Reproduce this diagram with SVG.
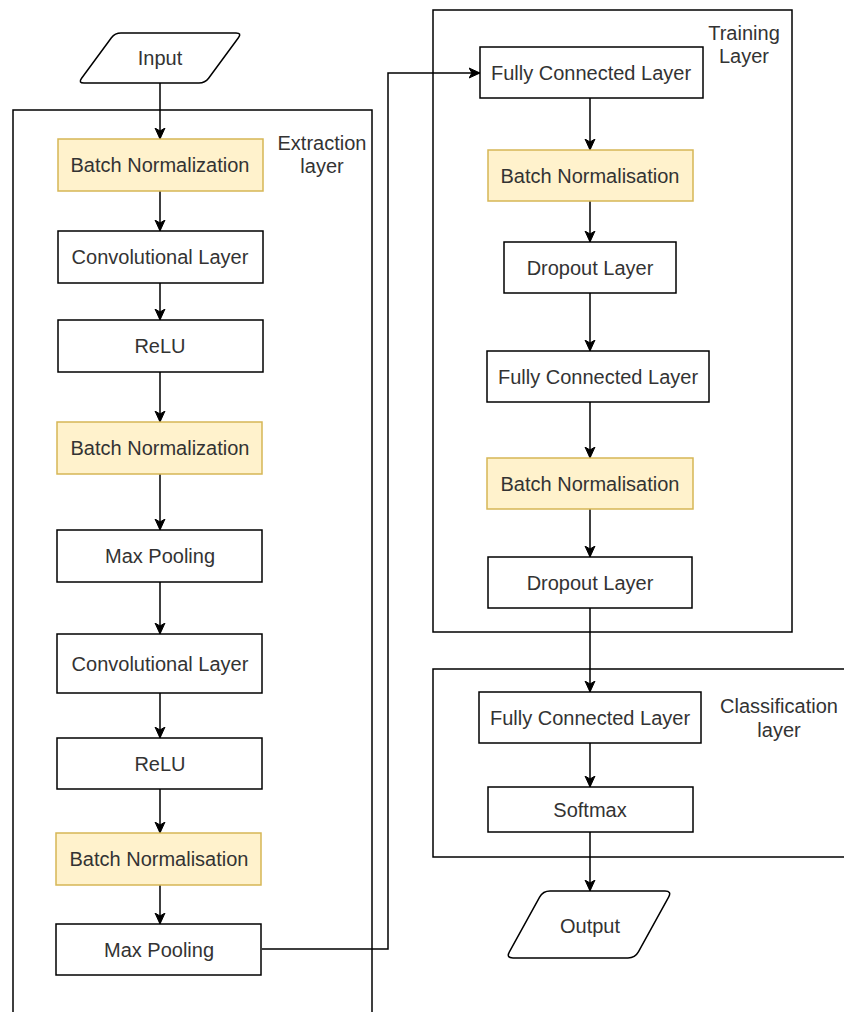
<svg xmlns="http://www.w3.org/2000/svg" width="844" height="1012" viewBox="0 0 844 1012">
<style>
.box{fill:#ffffff;stroke:#000000;stroke-width:1.5}
.bn{fill:#fff2cc;stroke:#d6b656;stroke-width:1.5}
.cont{fill:none;stroke:#000000;stroke-width:1.5}
.t{font-family:"Liberation Sans",Arial,sans-serif;font-size:20px;fill:#333333;text-anchor:middle}
.edge{fill:none;stroke:#000000;stroke-width:1.5}
</style>
<defs>
<marker id="arr" markerUnits="userSpaceOnUse" markerWidth="12" markerHeight="12" viewBox="0 0 12 12" refX="11" refY="6" orient="auto">
<path d="M0,1 L11,6 L0,11 L3,6 Z" fill="#000000" stroke="#000000" stroke-width="1"/>
</marker>
</defs>
<rect x="0" y="0" width="844" height="1012" fill="#ffffff"/>

<g id="containers">
<g id="extraction-layer">
<rect class="cont" x="13" y="110" width="359" height="920"/>
<text class="t" x="322" y="150">Extraction</text>
<text class="t" x="322" y="173">layer</text>
</g>
<g id="training-layer">
<rect class="cont" x="433" y="10" width="359" height="622"/>
<text class="t" x="744" y="40">Training</text>
<text class="t" x="744" y="63">Layer</text>
</g>
<g id="classification-layer">
<rect class="cont" x="433" y="669" width="430" height="188"/>
<text class="t" x="779" y="713">Classification</text>
<text class="t" x="779" y="737">layer</text>
</g>
</g>

<g id="connectors">
<path class="edge" marker-end="url(#arr)" d="M160,83 V139"/>
<path class="edge" marker-end="url(#arr)" d="M160,191 V231"/>
<path class="edge" marker-end="url(#arr)" d="M160,283 V320"/>
<path class="edge" marker-end="url(#arr)" d="M160,372 V422"/>
<path class="edge" marker-end="url(#arr)" d="M160,474 V530"/>
<path class="edge" marker-end="url(#arr)" d="M160,582 V634"/>
<path class="edge" marker-end="url(#arr)" d="M160,693 V738"/>
<path class="edge" marker-end="url(#arr)" d="M160,789 V833"/>
<path class="edge" marker-end="url(#arr)" d="M160,885 V924"/>
<path class="edge" marker-end="url(#arr)" d="M262,949 H388 V73 H480"/>
<path class="edge" marker-end="url(#arr)" d="M590,98 V150"/>
<path class="edge" marker-end="url(#arr)" d="M590,201 V242"/>
<path class="edge" marker-end="url(#arr)" d="M590,293 V351"/>
<path class="edge" marker-end="url(#arr)" d="M590,402 V458"/>
<path class="edge" marker-end="url(#arr)" d="M590,509 V557"/>
<path class="edge" marker-end="url(#arr)" d="M590,608 V692"/>
<path class="edge" marker-end="url(#arr)" d="M590,743 V787"/>
<path class="edge" marker-end="url(#arr)" d="M590,832 V891"/>
</g>

<g id="input">
<path class="box" stroke-width="2" d="M121,33 L236,33 Q242,33 238.4,37.8 L208.6,78.2 Q205,83 199,83 L84,83 Q78,83 81.6,78.2 L111.4,37.8 Q115,33 121,33 Z"/>
<text class="t" x="160" y="65">Input</text>
</g>

<g id="bn1"><rect class="bn" x="58" y="139" width="205" height="52"/><text class="t" x="160" y="172">Batch Normalization</text></g>
<g id="conv1"><rect class="box" x="58" y="231" width="205" height="52"/><text class="t" x="160" y="264">Convolutional Layer</text></g>
<g id="relu1"><rect class="box" x="58" y="320" width="205" height="52"/><text class="t" x="160" y="353">ReLU</text></g>
<g id="bn2"><rect class="bn" x="57" y="422" width="205" height="52"/><text class="t" x="160" y="455">Batch Normalization</text></g>
<g id="maxpool1"><rect class="box" x="57" y="530" width="205" height="52"/><text class="t" x="160" y="563">Max Pooling</text></g>
<g id="conv2"><rect class="box" x="57" y="634" width="205" height="59"/><text class="t" x="160" y="671">Convolutional Layer</text></g>
<g id="relu2"><rect class="box" x="57" y="738" width="205" height="51"/><text class="t" x="160" y="771">ReLU</text></g>
<g id="bn3"><rect class="bn" x="56" y="833" width="205" height="52"/><text class="t" x="159" y="866">Batch Normalisation</text></g>
<g id="maxpool2"><rect class="box" x="56" y="924" width="205" height="51"/><text class="t" x="159" y="957">Max Pooling</text></g>

<g id="fc1"><rect class="box" x="480" y="47" width="223" height="51"/><text class="t" x="591" y="80">Fully Connected Layer</text></g>
<g id="bn4"><rect class="bn" x="488" y="150" width="205" height="51"/><text class="t" x="590" y="183">Batch Normalisation</text></g>
<g id="dropout1"><rect class="box" x="504" y="242" width="172" height="51"/><text class="t" x="590" y="275">Dropout Layer</text></g>
<g id="fc2"><rect class="box" x="487" y="351" width="222" height="51"/><text class="t" x="598" y="384">Fully Connected Layer</text></g>
<g id="bn5"><rect class="bn" x="487" y="458" width="206" height="51"/><text class="t" x="590" y="491">Batch Normalisation</text></g>
<g id="dropout2"><rect class="box" x="488" y="557" width="204" height="51"/><text class="t" x="590" y="590">Dropout Layer</text></g>

<g id="fc3"><rect class="box" x="479" y="692" width="222" height="51"/><text class="t" x="590" y="725">Fully Connected Layer</text></g>
<g id="softmax"><rect class="box" x="488" y="787" width="205" height="45"/><text class="t" x="590" y="817">Softmax</text></g>

<g id="output">
<path class="box" stroke-width="2" d="M550,891 L665,891 Q672,891 668.6,897.1 L638.4,951.9 Q635,958 628,958 L513,958 Q506,958 509.4,951.9 L539.6,897.1 Q543,891 550,891 Z"/>
<text class="t" x="590" y="933">Output</text>
</g>
</svg>
